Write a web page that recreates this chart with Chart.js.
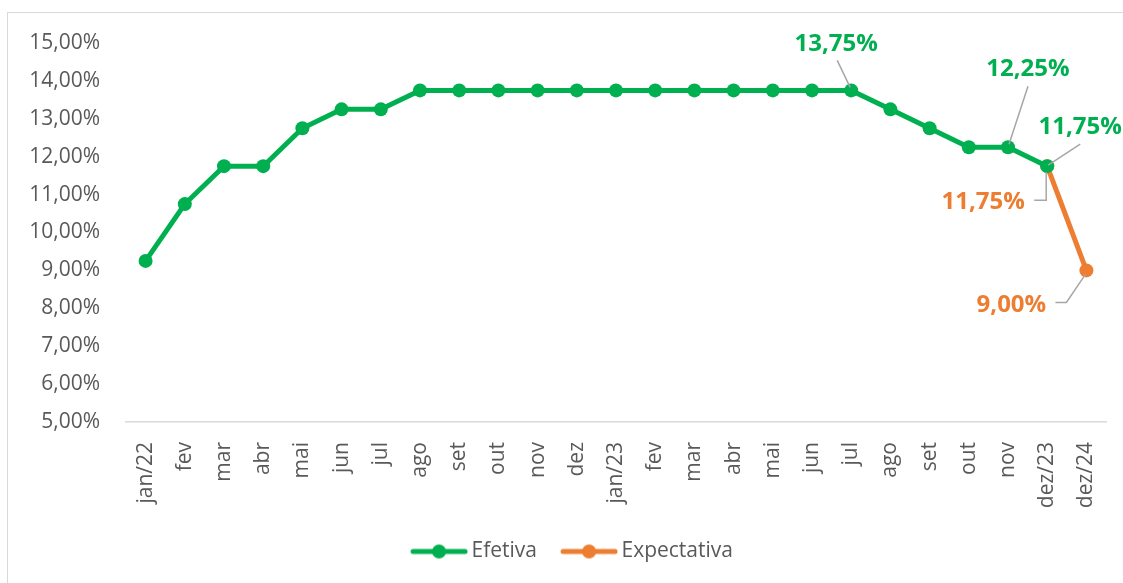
<!DOCTYPE html>
<html>
<head>
<meta charset="utf-8">
<script src="https://cdn.jsdelivr.net/npm/chart.js@4"></script>
<style>
  body { margin: 0; background: #fff; }
  #wrap { position: relative; width: 1123px; height: 583px; }
</style>
</head>
<body>
<div id="wrap"><canvas id="selicChart"></canvas></div>
<script>
// Dados
const categorias = ['jan/22', 'fev', 'mar', 'abr', 'mai', 'jun', 'jul', 'ago', 'set', 'out', 'nov', 'dez',
    'jan/23', 'fev', 'mar', 'abr', 'mai', 'jun', 'jul', 'ago', 'set', 'out', 'nov', 'dez/23', 'dez/24'];
const efetiva = [9.25, 10.75, 11.75, 11.75, 12.75, 13.25, 13.25, 13.75, 13.75, 13.75, 13.75, 13.75,
    13.75, 13.75, 13.75, 13.75, 13.75, 13.75, 13.75, 13.25, 12.75, 12.25, 12.25, 11.75, null];
const expectativa = [null, null, null, null, null, null, null, null, null, null, null, null,
    null, null, null, null, null, null, null, null, null, null, null, 11.75, 9.00];
const yTicks = [5, 6, 7, 8, 9, 10, 11, 12, 13, 14, 15];

const VERDE = '#00B050';
const LARANJA = '#ED7D31';
const CINZA = '#595959';
const FONTE = '"Open Sans", "Noto Sans", sans-serif';

// Rótulos com linhas de chamada (deslocamentos em px a partir do ponto)
const rotulos = [
    { ds: 0, i: 18, dx: -15, dy: -46, leader: [[-14, -30], [-1, -3]] },
    { ds: 0, i: 22, dx: 20, dy: -78, leader: [[20, -61], [1, -3]] },
    { ds: 0, i: 23, dx: 33, dy: -39, leader: [[33, -22], [1, -1]] },
    { ds: 1, i: 23, dx: -64, dy: 36, leader: [[-13, 34], [-1, 34], [-1, 6]] },
    { ds: 1, i: 24, dx: -75, dy: 35, leader: [[-31, 32], [-20, 32], [-1, 4]] }
];

function formatPct(v) {
    return v.toFixed(2).replace('.', ',') + '%';
}

// Ícone da legenda: linha com círculo (com margem à esquerda para espaçar os itens)
function legendIcon(color) {
    const c = document.createElement('canvas');
    c.width = 78; c.height = 16;
    const ctx = c.getContext('2d');
    ctx.strokeStyle = color;
    ctx.lineWidth = 5;
    ctx.lineCap = 'round';
    ctx.beginPath();
    ctx.moveTo(23, 8); ctx.lineTo(75, 8);
    ctx.stroke();
    ctx.fillStyle = color;
    ctx.beginPath();
    ctx.arc(49, 8, 7, 0, Math.PI * 2);
    ctx.fill();
    return c;
}

const bordaPlugin = {
    id: 'borda',
    beforeDraw(chart) {
        const ctx = chart.ctx;
        ctx.save();
        ctx.strokeStyle = '#d9d9d9';
        ctx.lineWidth = 1;
        ctx.strokeRect(7.5, 12.5, 1300, 1000);
        ctx.restore();
    }
};

const rotulosPlugin = {
    id: 'rotulos',
    afterDatasetsDraw(chart) {
        const ctx = chart.ctx;
        ctx.save();
        rotulos.forEach(r => {
            const el = chart.getDatasetMeta(r.ds).data[r.i];
            const value = chart.data.datasets[r.ds].data[r.i];
            const x = el.x, y = el.y;
            ctx.strokeStyle = '#a6a6a6';
            ctx.lineWidth = 1.5;
            ctx.beginPath();
            r.leader.forEach((p, k) => {
                if (k === 0) ctx.moveTo(x + p[0], y + p[1]);
                else ctx.lineTo(x + p[0], y + p[1]);
            });
            ctx.stroke();
            ctx.fillStyle = chart.data.datasets[r.ds].borderColor;
            ctx.font = 'bold 24px ' + FONTE;
            ctx.textAlign = 'center';
            ctx.textBaseline = 'middle';
            ctx.fillText(formatPct(value), x + r.dx, y + r.dy);
        });
        ctx.restore();
    }
};

const ctx = document.getElementById('selicChart').getContext('2d');
new Chart(ctx, {
    type: 'line',
    data: {
        labels: categorias,
        datasets: [
            {
                label: 'Efetiva',
                data: efetiva,
                borderColor: VERDE,
                backgroundColor: VERDE,
                borderWidth: 5,
                pointRadius: 7,
                pointHoverRadius: 7,
                pointBorderWidth: 0,
                pointStyle: 'circle',
                tension: 0
            },
            {
                label: 'Expectativa',
                data: expectativa,
                borderColor: LARANJA,
                backgroundColor: LARANJA,
                borderWidth: 5,
                pointRadius: 7,
                pointHoverRadius: 7,
                pointBorderWidth: 0,
                pointStyle: 'circle',
                tension: 0
            }
        ]
    },
    options: {
        responsive: true,
        maintainAspectRatio: false,
        animation: false,
        layout: { padding: { left: 24, right: 17, top: 43, bottom: 11 } },
        plugins: {
            legend: {
                position: 'bottom',
                labels: {
                    usePointStyle: true,
                    pointStyleWidth: 64,
                    color: CINZA,
                    font: { family: FONTE, size: 21 },
                    padding: 10,
                    generateLabels(chart) {
                        return chart.data.datasets.map((ds, i) => ({
                            text: ds.label,
                            fontColor: CINZA,
                            pointStyle: legendIcon(ds.borderColor),
                            datasetIndex: i,
                            lineWidth: 0,
                            strokeStyle: 'transparent',
                            fillStyle: ds.borderColor
                        }));
                    }
                }
            },
            tooltip: { enabled: false }
        },
        scales: {
            x: {
                offset: true,
                grid: { display: false, drawTicks: false },
                border: { display: true, color: '#d9d9d9', width: 1.5 },
                afterFit(scale) {
                    scale.height = 109;
                    scale.paddingLeft = 0;
                    scale.paddingRight = 0;
                },
                ticks: {
                    color: CINZA,
                    font: { family: FONTE, size: 21 },
                    minRotation: 90,
                    maxRotation: 90,
                    autoSkip: false,
                    padding: 20
                }
            },
            y: {
                min: 5,
                max: 15,
                grid: { display: false, drawTicks: false },
                border: { display: false },
                afterBuildTicks(scale) {
                    scale.ticks = yTicks.map(v => ({ value: v }));
                },
                afterFit(scale) {
                    scale.width = 102;
                },
                ticks: {
                    color: CINZA,
                    font: { family: FONTE, size: 21 },
                    padding: 26,
                    callback: v => formatPct(v)
                }
            }
        }
    },
    plugins: [bordaPlugin, rotulosPlugin]
});
</script>
</body>
</html>
